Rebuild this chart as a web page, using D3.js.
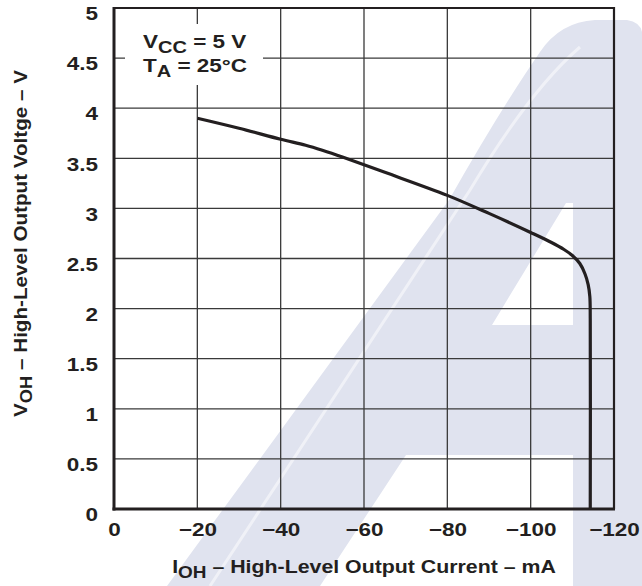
<!DOCTYPE html>
<html><head><meta charset="utf-8">
<script src="https://cdn.jsdelivr.net/npm/d3@7"></script>
<style>
body{margin:0;background:#fff;}
svg text{font-family:"Liberation Sans",Arial,sans-serif;font-weight:bold;fill:#231f20;}
</style></head><body>
<svg id="c" width="642" height="586"></svg>
<script>
// Data
const currentMA = [-20, -30, -40, -46, -50, -55, -65, -80, -90, -100, -105, -108, -110, -111.8, -113, -113.8, -114.2, -114.3, -114.3];
const voltageV  = [3.90, 3.80, 3.69, 3.63, 3.58, 3.51, 3.36, 3.13, 2.95, 2.76, 2.66, 2.59, 2.53, 2.45, 2.35, 2.24, 2.12, 1.9, 0];
const xTicks = [0, -20, -40, -60, -80, -100, -120];
const yTicks = [0, 0.5, 1, 1.5, 2, 2.5, 3, 3.5, 4, 4.5, 5];

const svg = d3.select("#c");
const L = 114, R = 614, T = 8, B = 509;
const SX = 1.25; // horizontal stretch of the lettering
const x = d3.scaleLinear().domain([0, -120]).range([L, R]);
const y = d3.scaleLinear().domain([0, 5]).range([B, T]);

// Watermark (decorative)
const wm = svg.append("g");
wm.append("path")
  .attr("fill", "#e0e3ef").attr("fill-rule", "evenodd")
  .attr("d", "M167,586 L449,200 Q500,110 540,52 Q560,22 595,20 L627,20 Q640,22 642,32 L642,586 L573,586 L573,455 L406,455 L320,586 Z " +
             "M566,203 L573,203 L573,325 L492,325 Z");
wm.append("path")
  .attr("fill", "none").attr("stroke", "#fff").attr("stroke-opacity", 0.5).attr("stroke-width", 3)
  .attr("d", "M210,586 L470,190 Q530,90 580,47");

// Grid
const grid = svg.append("g");
grid.selectAll(".vx").data(xTicks.slice(1, -1)).join("line")
  .attr("x1", d => x(d)).attr("x2", d => x(d)).attr("y1", T).attr("y2", B)
  .attr("stroke", "#3a3a3a").attr("stroke-width", 1.3);
grid.selectAll(".hy").data(yTicks.slice(1, -1)).join("line")
  .attr("x1", L).attr("x2", R).attr("y1", d => y(d)).attr("y2", d => y(d))
  .attr("stroke", "#3a3a3a").attr("stroke-width", 1.3);

// Frame
svg.append("line").attr("x1", L).attr("x2", R).attr("y1", T).attr("y2", T).attr("stroke", "#231f20").attr("stroke-width", 2.2);
svg.append("line").attr("x1", R).attr("x2", R).attr("y1", T - 1).attr("y2", B).attr("stroke", "#231f20").attr("stroke-width", 2.2);
svg.append("line").attr("x1", L).attr("x2", L).attr("y1", T - 1).attr("y2", B + 1.5).attr("stroke", "#231f20").attr("stroke-width", 3);
svg.append("line").attr("x1", L - 1.5).attr("x2", R + 1).attr("y1", B).attr("y2", B).attr("stroke", "#231f20").attr("stroke-width", 3);

// Label box
svg.append("rect").attr("x", 125).attr("y", 24).attr("width", 138).attr("height", 61).attr("fill", "#fff");
function subText(px, py, main, sub, rest, size, anchor) {
  const t = svg.append("text").attr("font-size", size).attr("text-anchor", anchor || "start");
  t.append("tspan").text(main);
  t.append("tspan").attr("dy", 5).attr("font-size", size - 2).text(sub);
  t.append("tspan").attr("dy", -5).text(rest);
  return t;
}
subText(0, 0, "V", "CC", " = 5 V", 18).attr("transform", `translate(143,48) scale(${SX},1)`);
subText(0, 0, "T", "A", " = 25°C", 18).attr("transform", `translate(143,72) scale(${SX},1)`);

// Curve
const pts = currentMA.map((c, i) => [c, voltageV[i]]);
svg.append("path").datum(pts)
  .attr("fill", "none").attr("stroke", "#231f20").attr("stroke-width", 3.2).attr("stroke-linejoin", "round")
  .attr("d", d3.line().x(d => x(d[0])).y(d => y(d[1])).curve(d3.curveCatmullRom.alpha(0.5)));

// Axes tick labels via d3 axes
const fmtX = d => d === 0 ? "0" : "\u2212" + Math.abs(d);
const xAxis = svg.append("g").attr("transform", `translate(0,${B})`)
  .call(d3.axisBottom(x).tickValues(xTicks).tickSize(0).tickPadding(14).tickFormat(fmtX));
xAxis.select(".domain").remove();
xAxis.selectAll("text").attr("font-size", 18).attr("font-family", "Liberation Sans, Arial, sans-serif")
  .attr("font-weight", "bold").attr("fill", "#231f20").attr("transform", `scale(${SX},1)`);

const yAxis = svg.append("g").attr("transform", `translate(${L},0)`)
  .call(d3.axisLeft(y).tickValues(yTicks).tickSize(0).tickFormat(d3.format("")));
yAxis.select(".domain").remove();
yAxis.selectAll("text").attr("font-size", 18).attr("dy", "0.65em").attr("x", -16 / SX)
  .attr("font-family", "Liberation Sans, Arial, sans-serif").attr("font-weight", "bold").attr("fill", "#231f20")
  .attr("transform", `scale(${SX},1)`);

// Axis titles, stretched to the reference width
const xt = subText(0, 0, "I", "OH", " \u2013 High-Level Output Current \u2013 mA", 18, "middle");
const xw = xt.node().getBBox().width;
xt.attr("transform", `translate(364,573) scale(${384 / xw},1)`);

const yt = subText(0, 0, "V", "OH", " \u2013 High-Level Output Voltge \u2013 V", 18, "middle");
const yw = yt.node().getBBox().width;
yt.attr("transform", `translate(27,243.5) rotate(-90) scale(${347 / yw},1)`);
</script>
</body></html>
